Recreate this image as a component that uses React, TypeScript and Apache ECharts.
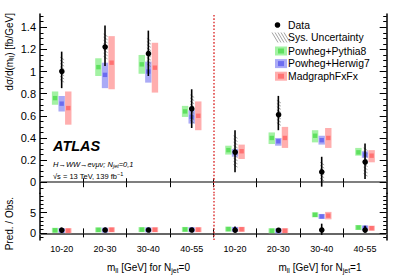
import React, { useEffect, useRef } from "react";
import * as echarts from "echarts";

// ---- data ----
const bins = ["10-20", "20-30", "30-40", "40-55", "10-20", "20-30", "30-40", "40-55"];

const dataVal = [1.01, 1.23, 1.17, 0.67, 0.28, 0.62, 0.1, 0.19];
const dataLo = [0.85, 1.05, 0.96, 0.49, 0.09, 0.47, -0.04, 0.03];
const dataHi = [1.18, 1.415, 1.37, 0.84, 0.47, 0.78, 0.23, 0.35];
const sysLo = [0.89, 1.1, 1.04, 0.53, 0.13, 0.52, 0.02, 0.06];
const sysHi = [1.13, 1.34, 1.3, 0.79, 0.42, 0.74, 0.18, 0.31];

const pythia = [0.76, 1.04, 1.065, 0.64, 0.29, 0.4, 0.42, 0.27];
const pythiaLo = [0.7, 0.96, 0.98, 0.59, 0.25, 0.345, 0.36, 0.24];
const pythiaHi = [0.82, 1.12, 1.15, 0.69, 0.33, 0.45, 0.47, 0.31];

const herwig = [0.71, 0.97, 1.0, 0.59, 0.27, 0.37, 0.38, 0.25];
const herwigLo = [0.64, 0.85, 0.9, 0.53, 0.23, 0.33, 0.34, 0.22];
const herwigHi = [0.78, 1.08, 1.09, 0.65, 0.3, 0.4, 0.42, 0.28];

const madgraph = [0.67, 1.08, 1.035, 0.6, 0.28, 0.4, 0.4, 0.24];
const madgraphLo = [0.52, 0.84, 0.81, 0.47, 0.21, 0.31, 0.31, 0.18];
const madgraphHi = [0.82, 1.32, 1.26, 0.73, 0.34, 0.5, 0.49, 0.29];

const ratioData = [1, 1, 1, 1, 1, 1, 1, 1];
const ratioDataErr = [0.17, 0.15, 0.18, 0.27, 0.68, 0.26, 1.35, 0.84];

const ratioPythia = [0.75, 0.85, 0.91, 0.96, 1.04, 0.64, 4.5, 1.42];
const ratioPythiaLo = [0.69, 0.78, 0.84, 0.9, 0.9, 0.56, 3.9, 1.24];
const ratioPythiaHi = [0.81, 0.92, 0.98, 1.02, 1.18, 0.72, 5.1, 1.6];

const ratioHerwig = [0.7, 0.79, 0.85, 0.88, 0.96, 0.59, 4.1, 1.32];
const ratioHerwigLo = [0.63, 0.69, 0.77, 0.79, 0.85, 0.53, 3.6, 1.16];
const ratioHerwigHi = [0.77, 0.88, 0.93, 0.97, 1.07, 0.65, 4.6, 1.48];

const ratioMadgraph = [0.66, 0.88, 0.88, 0.9, 1.0, 0.64, 4.3, 1.26];
const ratioMadgraphLo = [0.51, 0.68, 0.69, 0.7, 0.75, 0.5, 3.4, 1.0];
const ratioMadgraphHi = [0.81, 1.07, 1.08, 1.09, 1.21, 0.81, 5.2, 1.52];

const mainMajorTicks = [0, 0.2, 0.4, 0.6, 0.8, 1, 1.2, 1.4];
const ratioMajorTicks = [0, 5];
const binEdges = [1, 2, 3, 4, 5, 6, 7];
const binCenters = [0.5, 1.5, 2.5, 3.5, 4.5, 5.5, 6.5, 7.5];

// ---- styling ----
const FONT = "'Liberation Sans', Arial, Helvetica, sans-serif";
const COLORS = {
  pythia: { band: "#a3f2a3", core: "#5fe05f" },
  herwig: { band: "#aaaaf6", core: "#6c6cf0" },
  madgraph: { band: "#ffaeae", core: "#ff7272" },
};

const mainMinor: number[] = [];
for (let k = -1; k <= 30; k++) if (k % 4 !== 0) mainMinor.push(Number((k * 0.05).toFixed(2)));
const ratioMinor: number[] = [];
for (let k = -1; k <= 9; k++) if (k % 5 !== 0) ratioMinor.push(k);

const predRender = (offset: number, band: string, core: string, minH: number) => (params: any, api: any) => {
  const x = api.value(0);
  const pc = api.coord([x, api.value(1)]);
  const pl = api.coord([x, api.value(2)]);
  const ph = api.coord([x, api.value(3)]);
  const cx = pc[0] + offset;
  let top = ph[1];
  let bot = pl[1];
  if (bot - top < minH) {
    const m = (top + bot) / 2;
    top = m - minH / 2;
    bot = m + minH / 2;
  }
  return {
    type: "group",
    children: [
      { type: "rect", shape: { x: cx - 3.2, y: top, width: 6.4, height: bot - top }, style: { fill: band } },
      { type: "rect", shape: { x: cx - 2.2, y: pc[1] - 2.2, width: 4.4, height: 4.4 }, style: { fill: core } },
    ],
  };
};

const dataRender = (params: any, api: any) => {
  const x = api.value(0);
  const p = api.coord([x, api.value(1)]);
  const lo = api.coord([x, api.value(2)]);
  const hi = api.coord([x, api.value(3)]);
  return {
    type: "group",
    children: [
      { type: "line", shape: { x1: p[0], y1: hi[1], x2: p[0], y2: lo[1] }, style: { stroke: "#000", lineWidth: 1.6 } },
      { type: "circle", shape: { cx: p[0], cy: p[1], r: 2.8 }, style: { fill: "#000" } },
    ],
  };
};

const sysRender = (params: any, api: any) => {
  const x = api.value(0);
  const lo = api.coord([x, api.value(1)]);
  const hi = api.coord([x, api.value(2)]);
  const children: any[] = [];
  for (let y = hi[1]; y < lo[1] - 1.5; y += 3.2) {
    children.push({
      type: "line",
      shape: { x1: lo[0] - 1.5, y1: y, x2: lo[0] + 2.5, y2: y + 2.6 },
      style: { stroke: "#888", lineWidth: 0.8 },
    });
  }
  return { type: "group", children };
};

const predSeries = (
  name: string,
  xi: number,
  yi: number,
  c: number[],
  lo: number[],
  hi: number[],
  offset: number,
  col: { band: string; core: string },
  minH: number
) => ({
  type: "custom",
  name,
  xAxisIndex: xi,
  yAxisIndex: yi,
  z: 2,
  renderItem: predRender(offset, col.band, col.core, minH),
  data: bins.map((_, i) => [binCenters[i], c[i], lo[i], hi[i]]),
});

const valueAxisCommon = {
  splitLine: { show: false },
  axisLabel: { show: false },
};

export default function App() {
  const ref = useRef<HTMLDivElement>(null);

  useEffect(() => {
    if (!ref.current) return;
    const chart = echarts.init(ref.current, undefined, { renderer: "svg" });

    const redLine = {
      symbol: "none",
      silent: true,
      label: { show: false },
      lineStyle: { color: "#e04848", width: 1.6, type: [1.6, 1.8] },
      data: [{ xAxis: 4 }],
    };

    const legendHatch: any[] = [];
    for (let k = 0; k < 5; k++) {
      legendHatch.push({
        type: "line",
        shape: { x1: 272 + k * 3, y1: 32.5, x2: 278 + k * 3, y2: 42.5 },
        style: { stroke: "#999", lineWidth: 0.9 },
      });
    }
    const legendBox = (y: number, col: { band: string; core: string }) => [
      { type: "rect", shape: { x: 275, y: y - 4.5, width: 12, height: 9 }, style: { fill: col.band } },
      { type: "rect", shape: { x: 278, y: y - 2.5, width: 6, height: 5 }, style: { fill: col.core } },
    ];
    const legendText = (y: number, text: string) => ({
      type: "text",
      x: 288,
      y,
      style: { text, fontSize: 10.4, fontFamily: FONT, fill: "#000", verticalAlign: "middle", align: "left" },
    });

    const option: any = {
      animation: false,
      backgroundColor: "#fff",
      grid: [
        { left: 40, top: 14, width: 346.7, height: 179.3 },
        { left: 40, top: 193.3, width: 346.7, height: 46.7 },
      ],
      xAxis: [
        {
          ...valueAxisCommon,
          type: "value",
          gridIndex: 0,
          min: 0,
          max: 8,
          position: "bottom",
          axisLine: { show: false },
          axisTick: { show: true, inside: true, length: 4, customValues: binEdges, lineStyle: { color: "#000", width: 1 } },
        },
        {
          ...valueAxisCommon,
          type: "value",
          gridIndex: 0,
          min: 0,
          max: 8,
          position: "top",
          axisLine: { show: true, lineStyle: { color: "#555", width: 1.5 } },
          axisTick: { show: true, inside: true, length: 5, customValues: binEdges, lineStyle: { color: "#000", width: 1 } },
        },
        {
          type: "value",
          gridIndex: 1,
          min: 0,
          max: 8,
          position: "bottom",
          splitLine: { show: false },
          axisLine: { show: true, lineStyle: { color: "#000", width: 1.5 } },
          axisTick: { show: true, inside: true, length: 5, customValues: binEdges, lineStyle: { color: "#000", width: 1 } },
          axisLabel: {
            show: true,
            customValues: binCenters,
            formatter: (v: number) => bins[Math.floor(v)],
            fontSize: 9,
            fontFamily: FONT,
            color: "#000",
            margin: 4,
          },
        },
        {
          ...valueAxisCommon,
          type: "value",
          gridIndex: 1,
          min: 0,
          max: 8,
          position: "top",
          axisLine: { show: true, lineStyle: { color: "#666", width: 2 } },
          axisTick: { show: true, inside: true, length: 4, customValues: binEdges, lineStyle: { color: "#000", width: 1 } },
        },
      ],
      yAxis: [
        {
          type: "value",
          gridIndex: 0,
          min: -0.1,
          max: 1.52,
          position: "left",
          splitLine: { show: false },
          axisLine: { show: true, lineStyle: { color: "#000", width: 1.5 } },
          axisTick: { show: true, inside: true, length: 7, customValues: mainMajorTicks, lineStyle: { color: "#000", width: 1 } },
          axisLabel: {
            show: true,
            customValues: mainMajorTicks,
            formatter: (v: number) => String(Math.round(v * 10) / 10),
            fontSize: 11,
            fontFamily: FONT,
            color: "#000",
            margin: 4,
          },
        },
        {
          ...valueAxisCommon,
          type: "value",
          gridIndex: 0,
          min: -0.1,
          max: 1.52,
          position: "left",
          axisLine: { show: false },
          axisTick: { show: true, inside: true, length: 3.5, customValues: mainMinor, lineStyle: { color: "#000", width: 1 } },
        },
        {
          ...valueAxisCommon,
          type: "value",
          gridIndex: 0,
          min: -0.1,
          max: 1.52,
          position: "right",
          axisLine: { show: true, lineStyle: { color: "#000", width: 1.5 } },
          axisTick: { show: true, inside: true, length: 7, customValues: mainMajorTicks, lineStyle: { color: "#000", width: 1 } },
        },
        {
          ...valueAxisCommon,
          type: "value",
          gridIndex: 0,
          min: -0.1,
          max: 1.52,
          position: "right",
          axisLine: { show: false },
          axisTick: { show: true, inside: true, length: 3.5, customValues: mainMinor, lineStyle: { color: "#000", width: 1 } },
        },
        {
          type: "value",
          gridIndex: 1,
          min: -1.6,
          max: 9.7,
          position: "left",
          splitLine: { show: false },
          axisLine: { show: true, lineStyle: { color: "#000", width: 1.5 } },
          axisTick: { show: true, inside: true, length: 7, customValues: ratioMajorTicks, lineStyle: { color: "#000", width: 1 } },
          axisLabel: {
            show: true,
            customValues: ratioMajorTicks,
            formatter: (v: number) => String(v),
            fontSize: 11,
            fontFamily: FONT,
            color: "#000",
            margin: 4,
          },
        },
        {
          ...valueAxisCommon,
          type: "value",
          gridIndex: 1,
          min: -1.6,
          max: 9.7,
          position: "left",
          axisLine: { show: false },
          axisTick: { show: true, inside: true, length: 3.5, customValues: ratioMinor, lineStyle: { color: "#000", width: 1 } },
        },
        {
          ...valueAxisCommon,
          type: "value",
          gridIndex: 1,
          min: -1.6,
          max: 9.7,
          position: "right",
          axisLine: { show: true, lineStyle: { color: "#000", width: 1.5 } },
          axisTick: { show: true, inside: true, length: 7, customValues: ratioMajorTicks, lineStyle: { color: "#000", width: 1 } },
        },
        {
          ...valueAxisCommon,
          type: "value",
          gridIndex: 1,
          min: -1.6,
          max: 9.7,
          position: "right",
          axisLine: { show: false },
          axisTick: { show: true, inside: true, length: 3.5, customValues: ratioMinor, lineStyle: { color: "#000", width: 1 } },
        },
      ],
      series: [
        predSeries("Powheg+Pythia8", 0, 0, pythia, pythiaLo, pythiaHi, -6.6, COLORS.pythia, 0),
        predSeries("Powheg+Herwig7", 0, 0, herwig, herwigLo, herwigHi, 0, COLORS.herwig, 0),
        predSeries("MadgraphFxFx", 0, 0, madgraph, madgraphLo, madgraphHi, 6.6, COLORS.madgraph, 0),
        {
          type: "custom",
          name: "Sys. Uncertainty",
          xAxisIndex: 0,
          yAxisIndex: 0,
          z: 3,
          renderItem: sysRender,
          data: bins.map((_, i) => [binCenters[i], sysLo[i], sysHi[i]]),
        },
        {
          type: "custom",
          name: "Data",
          xAxisIndex: 0,
          yAxisIndex: 0,
          z: 4,
          renderItem: dataRender,
          data: bins.map((_, i) => [binCenters[i], dataVal[i], dataLo[i], dataHi[i]]),
          markLine: redLine,
        },
        predSeries("Powheg+Pythia8 ratio", 2, 4, ratioPythia, ratioPythiaLo, ratioPythiaHi, -6.6, COLORS.pythia, 5),
        predSeries("Powheg+Herwig7 ratio", 2, 4, ratioHerwig, ratioHerwigLo, ratioHerwigHi, 0, COLORS.herwig, 5),
        predSeries("MadgraphFxFx ratio", 2, 4, ratioMadgraph, ratioMadgraphLo, ratioMadgraphHi, 6.6, COLORS.madgraph, 5),
        {
          type: "custom",
          name: "Data ratio",
          xAxisIndex: 2,
          yAxisIndex: 4,
          z: 4,
          renderItem: dataRender,
          data: bins.map((_, i) => [binCenters[i], ratioData[i], ratioData[i] - ratioDataErr[i], ratioData[i] + ratioDataErr[i]]),
          markLine: redLine,
        },
      ],
      graphic: [
        // legend
        { type: "circle", shape: { cx: 277.5, cy: 25, r: 2.8 }, style: { fill: "#000" } },
        legendText(25, "Data"),
        ...legendHatch,
        legendText(37.7, "Sys. Uncertainty"),
        ...legendBox(51, COLORS.pythia),
        legendText(51, "Powheg+Pythia8"),
        ...legendBox(63.6, COLORS.herwig),
        legendText(63.6, "Powheg+Herwig7"),
        ...legendBox(76.2, COLORS.madgraph),
        legendText(76.2, "MadgraphFxFx"),
        // ATLAS label
        {
          type: "text",
          x: 53,
          y: 146,
          style: {
            text: "ATLAS",
            fontSize: 14.5,
            fontWeight: "bold",
            fontStyle: "italic",
            fontFamily: FONT,
            fill: "#000",
            verticalAlign: "middle",
          },
        },
        {
          type: "text",
          x: 53,
          y: 164,
          style: {
            text: "H\u2192WW\u2192e\u03BD\u03BC\u03BD; N{sub|jet}=0,1",
            fontSize: 7.5,
            fontFamily: FONT,
            fontStyle: "italic",
            fill: "#000",
            verticalAlign: "middle",
            rich: { sub: { fontSize: 5.5, fontStyle: "italic", fontFamily: FONT, padding: [4, 0, 0, 0] } },
          },
        },
        {
          type: "text",
          x: 53,
          y: 176,
          style: {
            text: "\u221As = 13 TeV, 139 fb{sup|\u22121}",
            fontSize: 7.5,
            fontFamily: FONT,
            fill: "#000",
            verticalAlign: "middle",
            rich: { sup: { fontSize: 5.5, fontFamily: FONT, padding: [0, 0, 4, 0] } },
          },
        },
        // axis titles
        {
          type: "text",
          x: 9,
          y: 13,
          rotation: Math.PI / 2,
          style: {
            text: "d\u03C3/d(m{sub|ll}) [fb/GeV]",
            fontSize: 10,
            fontFamily: FONT,
            fill: "#000",
            align: "right",
            verticalAlign: "middle",
            rich: { sub: { fontSize: 7, fontFamily: FONT, padding: [5, 0, 0, 0] } },
          },
        },
        {
          type: "text",
          x: 9,
          y: 197,
          rotation: Math.PI / 2,
          style: {
            text: "Pred. / Obs.",
            fontSize: 10,
            fontFamily: FONT,
            fill: "#000",
            align: "right",
            verticalAlign: "middle",
          },
        },
        {
          type: "text",
          x: 148.5,
          y: 267,
          style: {
            text: "m{sub|ll} [GeV] for N{sub|jet}=0",
            fontSize: 10,
            fontFamily: FONT,
            fill: "#000",
            align: "center",
            verticalAlign: "middle",
            rich: { sub: { fontSize: 7, fontFamily: FONT, padding: [6, 0, 0, 0] } },
          },
        },
        {
          type: "text",
          x: 320,
          y: 267,
          style: {
            text: "m{sub|ll} [GeV] for N{sub|jet}=1",
            fontSize: 10,
            fontFamily: FONT,
            fill: "#000",
            align: "center",
            verticalAlign: "middle",
            rich: { sub: { fontSize: 7, fontFamily: FONT, padding: [6, 0, 0, 0] } },
          },
        },
      ],
    };

    chart.setOption(option);
    return () => chart.dispose();
  }, []);

  return (
    <div
      ref={ref}
      style={{ position: "fixed", left: 0, top: 0, width: 407, height: 277, background: "#fff" }}
    />
  );
}
